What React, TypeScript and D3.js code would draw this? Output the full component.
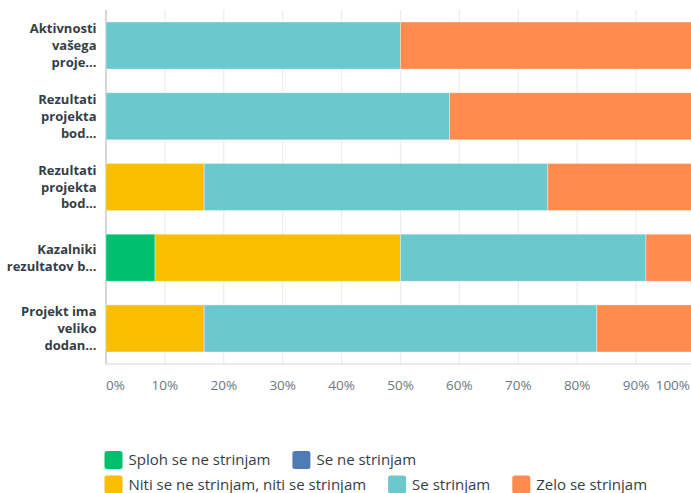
import React from "react";
import * as d3 from "d3";

const categories = [
  ["Aktivnosti", "vašega", "proje..."],
  ["Rezultati", "projekta", "bod..."],
  ["Rezultati", "projekta", "bod..."],
  ["Kazalniki", "rezultatov b..."],
  ["Projekt ima", "veliko", "dodan..."],
];
const seriesNames = [
  "Sploh se ne strinjam",
  "Se ne strinjam",
  "Niti se ne strinjam, niti se strinjam",
  "Se strinjam",
  "Zelo se strinjam",
];
const seriesColors = ["#00BF6F", "#507CB6", "#F9BE00", "#6BC8CD", "#FF8B4F"];
const splohValues = [0, 0, 0, 8.33, 0];
const seNeValues = [0, 0, 0, 0, 0];
const nitiValues = [0, 0, 16.67, 41.67, 16.67];
const seValues = [50, 58.33, 58.33, 41.67, 66.66];
const zeloValues = [50, 41.67, 25, 8.33, 16.67];
const tickValues = [0, 10, 20, 30, 40, 50, 60, 70, 80, 90, 100];

const W = 691;
const H = 493;
const FONT = "'Open Sans', Roboto, sans-serif";

export default function App() {
  const x = d3.scaleLinear().domain([0, 100]).range([106, 695]);
  const idx = categories.map((_, i) => String(i));
  const y = d3.scaleBand().domain(idx).range([10, 364]).paddingInner(0.335).paddingOuter(0.17);
  const rows = categories.map((_, i) => ({
    key: String(i),
    s0: splohValues[i],
    s1: seNeValues[i],
    s2: nitiValues[i],
    s3: seValues[i],
    s4: zeloValues[i],
  }));
  const stacked = d3.stack<any>().keys(["s0", "s1", "s2", "s3", "s4"])(rows);

  const legendFont = 15;
  const measure = (t: string, size: number) => {
    if (typeof document === "undefined") return t.length * 7;
    const c = document.createElement("canvas").getContext("2d")!;
    c.font = `${size}px ${FONT}`;
    return c.measureText(t).width;
  };
  const legendRows = [[0, 1], [2, 3, 4]];
  const legendItems: { i: number; x: number; y: number }[] = [];
  legendRows.forEach((r, ri) => {
    let cx = 104.5;
    r.forEach((i) => {
      legendItems.push({ i, x: cx, y: 451 + ri * 24.5 });
      cx += 18 + 6 + measure(seriesNames[i], legendFont) + 22;
    });
  });

  return (
    <svg width={W} height={H} style={{ position: "absolute", left: 0, top: 0 }}>
      <rect width={W} height={H} fill="#fff" />
      {tickValues.map((t) => (
        <line
          key={t}
          x1={x(t)}
          x2={x(t)}
          y1={10}
          y2={364}
          stroke={t === 0 ? "#d6d6d6" : "#ececec"}
          strokeWidth={t === 0 ? 2 : 1.2}
        />
      ))}
      <line x1={105} x2={W} y1={364} y2={364} stroke="#e3e3e3" strokeWidth={1.5} />
      {stacked.map((s, si) =>
        s.map((d, di) => {
          const w = x(d[1]) - x(d[0]);
          if (w <= 0) return null;
          return (
            <rect
              key={`${si}-${di}`}
              x={x(d[0])}
              y={y(String(di))!}
              width={w}
              height={y.bandwidth()}
              fill={seriesColors[si]}
              stroke="rgba(255,255,255,0.35)"
              strokeWidth={1}
            />
          );
        })
      )}
      {categories.map((lines, i) => {
        const cy = y(String(i))! + y.bandwidth() / 2;
        const lh = 16.7;
        const top = cy - ((lines.length - 1) * lh) / 2;
        return (
          <text
            key={i}
            textAnchor="end"
            fontFamily={FONT}
            fontWeight={700}
            fontSize={13}
            fill="#333e48"
          >
            {lines.map((l, li) => (
              <tspan key={li} x={96.5} y={top + li * lh} dy="0.35em">
                {l}
              </tspan>
            ))}
          </text>
        );
      })}
      {tickValues.map((t) => {
        const anchor = t === 0 ? "start" : t === 100 ? "end" : "middle";
        const tx = t === 0 ? 106 : t === 100 ? 690 : x(t);
        return (
          <text
            key={t}
            x={tx}
            y={385}
            dy="0.35em"
            textAnchor={anchor}
            fontFamily={FONT}
            fontSize={13.5}
            fill="#6b787f"
          >
            {t}%
          </text>
        );
      })}
      {legendItems.map(({ i, x: lx, y: ly }) => (
        <g key={i}>
          <rect x={lx} y={ly} width={18} height={18} rx={2.5} fill={seriesColors[i]} />
          <text
            x={lx + 24}
            y={ly + 9}
            dy="0.35em"
            fontFamily={FONT}
            fontSize={legendFont}
            fill="#333e48"
          >
            {seriesNames[i]}
          </text>
        </g>
      ))}
    </svg>
  );
}
